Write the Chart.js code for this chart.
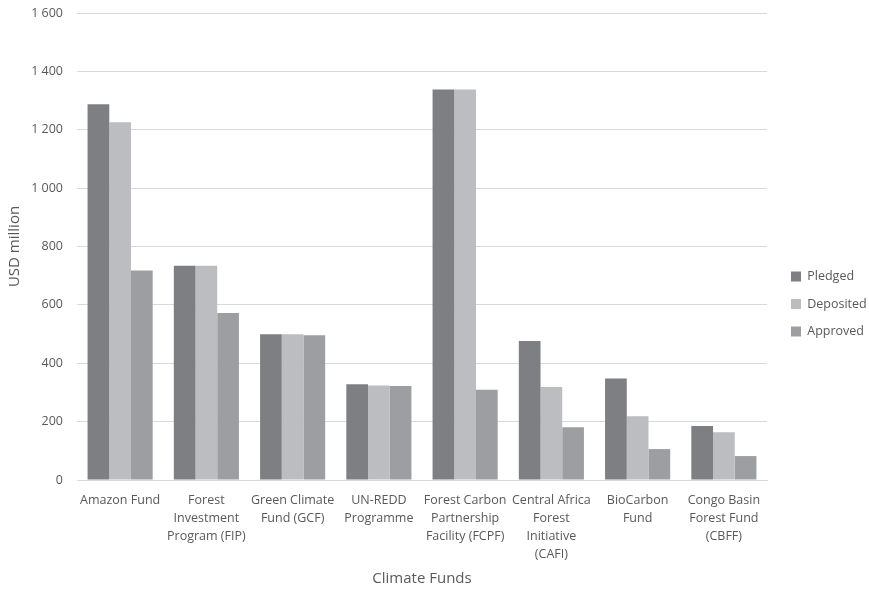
<!DOCTYPE html>
<html>
<head>
<meta charset="utf-8">
<script src="https://cdn.jsdelivr.net/npm/chart.js@4"></script>
<style>
    html, body { margin: 0; padding: 0; background: #ffffff; }
    #wrap { width: 869px; height: 590px; }
</style>
</head>
<body>
<div id="wrap"><canvas id="fundsChart"></canvas></div>
<script>
// categories (multi-line labels as in the original)
const funds = [
    ['Amazon Fund'],
    ['Forest', 'Investment', 'Program (FIP)'],
    ['Green Climate', 'Fund (GCF)'],
    ['UN-REDD', 'Programme'],
    ['Forest Carbon', 'Partnership', 'Facility (FCPF)'],
    ['Central Africa', 'Forest', 'Initiative', '(CAFI)'],
    ['BioCarbon', 'Fund'],
    ['Congo Basin', 'Forest Fund', '(CBFF)']
];

// USD million
const pledged   = [1287, 734, 499, 328, 1338, 476, 348, 185];
const deposited = [1226, 734, 499, 324, 1338, 319, 218, 164];
const approved  = [718, 572, 496, 322, 309, 181, 106, 82];

const yTicks = [0, 200, 400, 600, 800, 1000, 1200, 1400, 1600];

const textColor = '#595959';
const fontFamily = '"Open Sans", "Noto Sans", sans-serif';

// keep the plot box where the original has it, and nudge the legend
const layoutPins = {
    id: 'layoutPins',
    beforeLayout(chart) {
        const leg = chart.legend;
        if (leg && !leg._pinned) {
            const fit = leg.fit;
            leg.fit = function () {
                fit.call(this);
                this.width = 102;
            };
            leg._pinned = true;
        }
    },
    afterLayout(chart) {
        const leg = chart.legend;
        leg.left += 9;
        leg.right += 9;
        leg.top += 9;
        leg.bottom += 9;
    }
};

const ctx = document.getElementById('fundsChart').getContext('2d');
const chart = new Chart(ctx, {
    type: 'bar',
    data: {
        labels: funds,
        datasets: [{
            label: 'Pledged',
            data: pledged,
            backgroundColor: '#7e7f83'
        },
        {
            label: 'Deposited',
            data: deposited,
            backgroundColor: '#bcbdc1'
        },
        {
            label: 'Approved',
            data: approved,
            backgroundColor: '#9d9ea2'
        }]
    },
    options: {
        responsive: true,
        maintainAspectRatio: false,
        animation: false,
        layout: { padding: { top: 0, right: 0, bottom: 0, left: 0 } },
        datasets: {
            bar: { categoryPercentage: 0.755, barPercentage: 1.0 }
        },
        scales: {
            x: {
                grid: { display: false, drawTicks: false },
                border: { display: true, color: '#d9d9d9', width: 1 },
                ticks: {
                    color: textColor,
                    maxRotation: 0,
                    autoSkip: false,
                    padding: 12,
                    font: { family: fontFamily, size: 12.5, lineHeight: 1.42 }
                },
                title: {
                    display: true,
                    text: 'Climate Funds',
                    color: textColor,
                    font: { family: fontFamily, size: 15 },
                    padding: { top: 0, bottom: 2 }
                },
                afterFit(scale) { scale.height = 110; }
            },
            y: {
                min: 0,
                max: 1600,
                afterBuildTicks(scale) {
                    scale.ticks = yTicks.map(v => ({ value: v }));
                },
                grid: { color: '#d9d9d9', drawTicks: false, lineWidth: 1 },
                border: { display: false },
                ticks: {
                    color: textColor,
                    padding: 14,
                    font: { family: fontFamily, size: 12.5 },
                    callback: v => String(v).replace(/\B(?=(\d{3})+(?!\d))/g, ' ')
                },
                title: {
                    display: true,
                    text: 'USD million',
                    color: textColor,
                    font: { family: fontFamily, size: 15 },
                    padding: { top: 6, bottom: 0 }
                },
                afterFit(scale) {
                    scale.width = 77;
                    scale.paddingTop = 13;
                    scale.paddingBottom = 0;
                }
            }
        },
        plugins: {
            legend: {
                position: 'right',
                labels: {
                    color: textColor,
                    boxWidth: 10,
                    boxHeight: 10,
                    padding: 15,
                    font: { family: fontFamily, size: 12.5 }
                }
            },
            tooltip: { enabled: false }
        }
    },
    plugins: [layoutPins]
});
</script>
</body>
</html>
